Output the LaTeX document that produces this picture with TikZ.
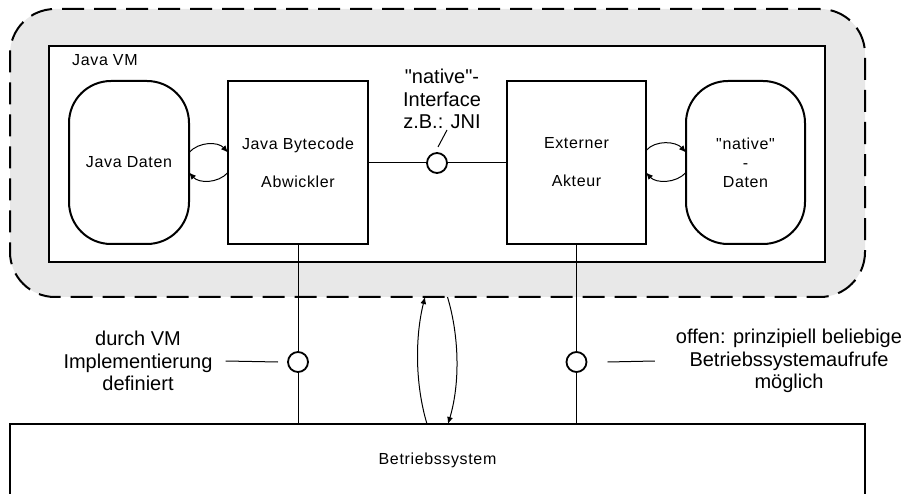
\documentclass[tikz,border=0pt]{standalone}
\usepackage{fontspec}
\setmainfont{Liberation Sans}[Ligatures=TeXOff]
\newfontfamily\boxfont{Liberation Sans}[LetterSpace=4,Ligatures=TeXOff]
\newcommand\sq{{\char34}}
\usetikzlibrary{arrows.meta}
\tikzset{
  px/.style={x=1pt,y=-1pt},
  thickbox/.style={draw,line width=2pt,inner sep=0pt,outer sep=0pt,fill=white,
     font=\boxfont\fontsize{16}{19}\selectfont,align=center},
  procbox/.style={thickbox,minimum width=140pt,minimum height=163pt},
  databox/.style={thickbox,rounded corners=42pt,minimum width=120pt,minimum height=163pt},
  iface/.style={circle,draw,line width=1.8pt,fill=white,minimum size=20pt,inner sep=0pt,outer sep=0pt},
  conn/.style={line width=1pt},
  arr/.style={line width=1pt,-{Latex[length=7pt,width=6pt]}},
  lbl/.style={font=\fontsize{20}{22.5}\selectfont,align=center,inner sep=0pt}
}
\begin{document}
\begin{tikzpicture}[px]
\useasboundingbox (0,0) rectangle (913,494);
\clip (0,0) rectangle (913,494);
% outer dashed region
\node[draw,line width=2pt,fill=black!9,rounded corners=45pt,dash pattern=on 22pt off 10pt,
      minimum width=855pt,minimum height=288pt,inner sep=0pt,outer sep=0pt] (outer) at (437.5,153) {};
% Java VM box
\node[thickbox,minimum width=776pt,minimum height=216pt] (vm) at (437,154) {};
\node[anchor=west,font=\boxfont\fontsize{16}{19}\selectfont,inner sep=0pt] (vmlbl) at (72,60) {Java VM};
% operating system
\node[thickbox,minimum width=855pt,minimum height=72pt] (os) at (437.5,460) {Betriebssystem};
% inner boxes
\node[databox] (jd) at (129,162.5) {Java Daten};
\node[procbox] (bc) at (298,162.5) {Java Bytecode\\[19pt]Abwickler};
\node[procbox,minimum width=139pt] (ext) at (576.5,162.5) {Externer\\[19pt]Akteur};
\node[databox,minimum width=119pt] (nd) at (745.5,162.5) {\sq native\sq\\-\\Daten};
% native interface
\coordinate (ifc) at (437,163);
\draw[conn] (bc.east) -- (ext.west);
\node[iface] (if) at (ifc) {};
\node[lbl] (iflbl) at (442,99) {\sq native\sq-\\Interface\\z.B.: JNI};
\draw[conn] ([shift={(1,-16)}]if.center) -- ([shift={(10,-33)}]if.center);
% vertical connections to OS
\draw[conn] (bc.south) -- (bc.south |- os.north);
\draw[conn] (ext.south) -- (ext.south |- os.north);
\node[iface] (c1) at (298,362) {};
\node[iface] (c2) at (576.5,362) {};
\node[lbl] (l1) at (138,361) {durch VM\\Implementierung\\definiert};
\node[lbl] (l2) at (789,361) {offen: prinzipiell beliebige\\Betriebssystemaufrufe\\möglich};
\draw[conn] ([xshift=13pt]l1.east) -- ([xshift=-10pt]c1.west);
\draw[conn] ([xshift=21pt]c2.east) -- ([xshift=-21pt]l2.west);
% data exchange arcs
\draw[arr] ([yshift=10pt]jd.east) .. controls +(10,-11) and +(-10,-11) .. ([yshift=10pt]bc.west);
\draw[arr] ([yshift=-10pt]bc.west) .. controls +(-10,11) and +(10,11) .. ([yshift=-10pt]jd.east);
\draw[arr] ([yshift=12pt]ext.east) .. controls +(10,-11) and +(-10,-11) .. ([yshift=10pt]nd.west);
\draw[arr] ([yshift=-10pt]nd.west) .. controls +(-10,11) and +(10,11) .. ([yshift=-10pt]ext.east);
% VM <-> OS arcs
\draw[arr] ([xshift=-10.5pt]os.north) .. controls +(-12,-40) and +(-10,40) .. ([xshift=-12.5pt]outer.south);
\draw[arr] ([xshift=10pt]outer.south) .. controls +(12,40) and +(12,-40) .. ([xshift=10.5pt]os.north);
\end{tikzpicture}
\end{document}
